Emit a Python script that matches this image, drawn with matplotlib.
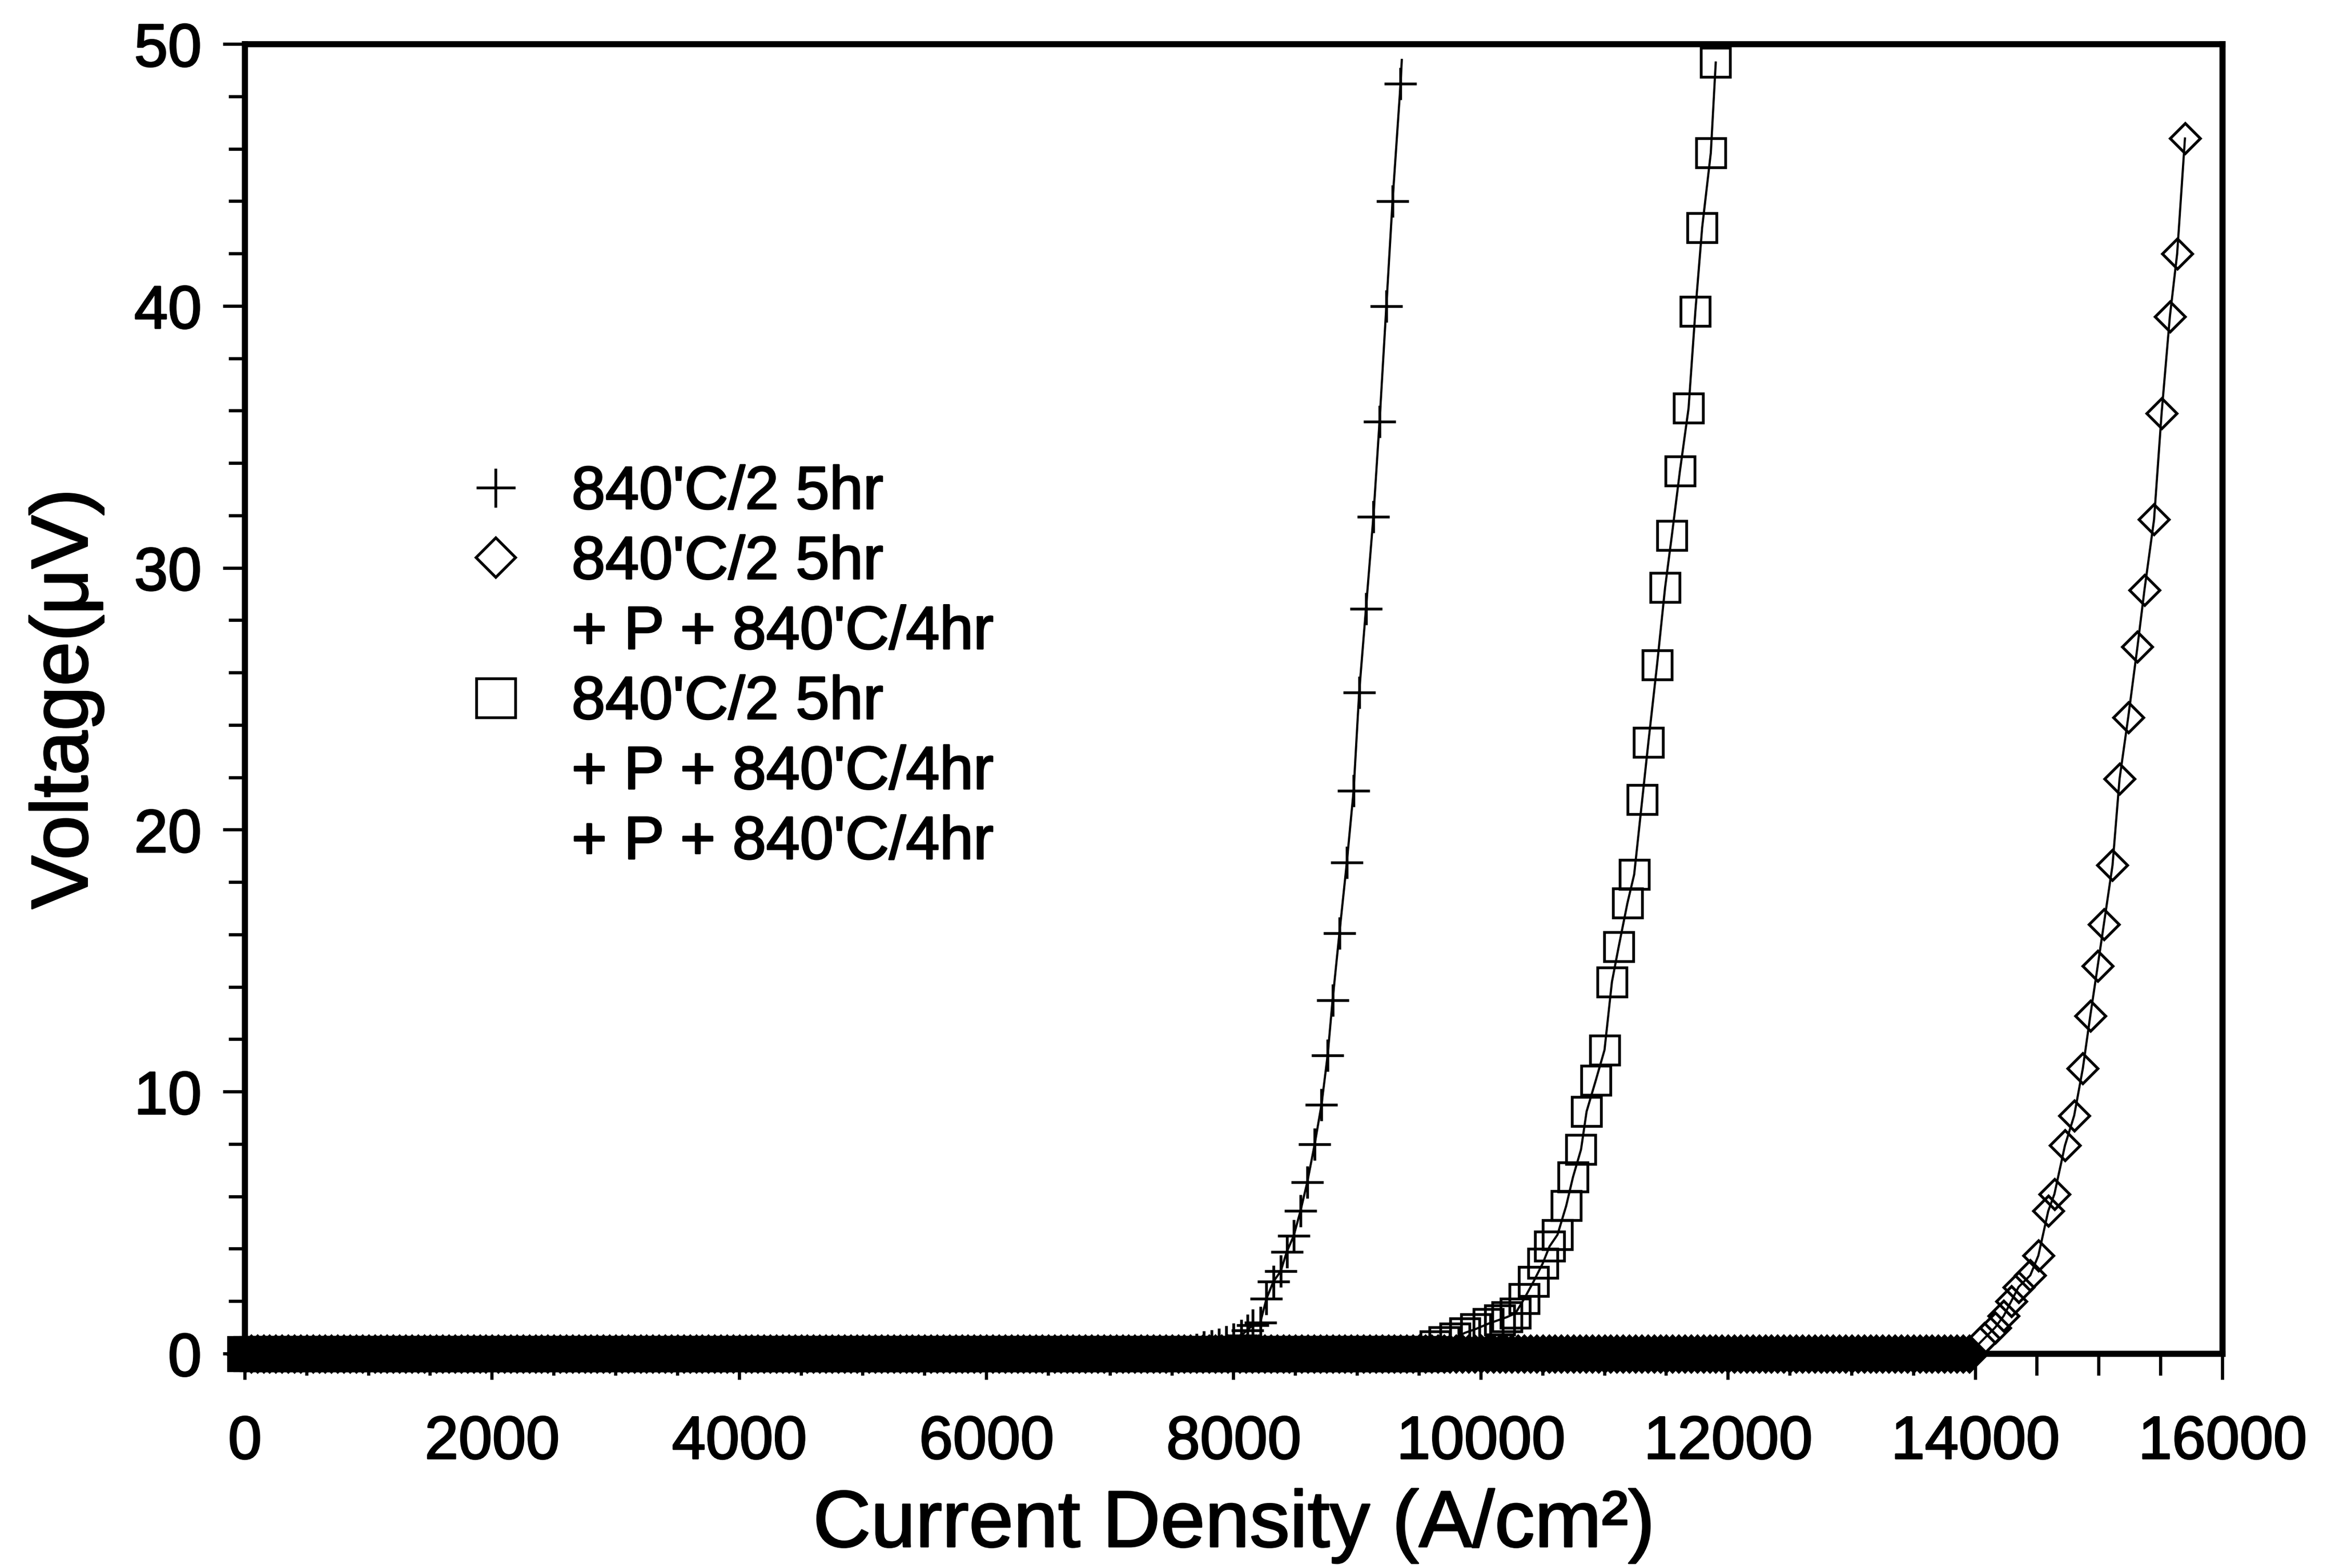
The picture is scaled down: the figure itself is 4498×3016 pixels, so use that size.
import matplotlib
matplotlib.use("Agg")
import matplotlib.pyplot as plt
import matplotlib.patheffects as pe
from matplotlib.lines import Line2D
from matplotlib.ticker import MultipleLocator

plt.rcParams["font.family"] = ["Liberation Sans", "DejaVu Sans"]

# current sweep on the flat (superconducting) part, A/cm2 -- voltage reads 0 there
sweep_current = [
    0, 50, 100, 150, 200, 250, 300, 350, 400, 450, 500, 550, 600, 650, 700, 750, 800, 850, 900, 950,
    1000, 1050, 1100, 1150, 1200, 1250, 1300, 1350, 1400, 1450, 1500, 1550, 1600, 1650, 1700, 1750, 1800, 1850, 1900, 1950,
    2000, 2050, 2100, 2150, 2200, 2250, 2300, 2350, 2400, 2450, 2500, 2550, 2600, 2650, 2700, 2750, 2800, 2850, 2900, 2950,
    3000, 3050, 3100, 3150, 3200, 3250, 3300, 3350, 3400, 3450, 3500, 3550, 3600, 3650, 3700, 3750, 3800, 3850, 3900, 3950,
    4000, 4050, 4100, 4150, 4200, 4250, 4300, 4350, 4400, 4450, 4500, 4550, 4600, 4650, 4700, 4750, 4800, 4850, 4900, 4950,
    5000, 5050, 5100, 5150, 5200, 5250, 5300, 5350, 5400, 5450, 5500, 5550, 5600, 5650, 5700, 5750, 5800, 5850, 5900, 5950,
    6000, 6050, 6100, 6150, 6200, 6250, 6300, 6350, 6400, 6450, 6500, 6550, 6600, 6650, 6700, 6750, 6800, 6850, 6900, 6950,
    7000, 7050, 7100, 7150, 7200, 7250, 7300, 7350, 7400, 7450, 7500, 7550, 7600, 7650, 7700, 7750, 7800, 7850, 7900, 7950,
    8000, 8050, 8100, 8150, 8200, 8250, 8300, 8350, 8400, 8450, 8500, 8550, 8600, 8650, 8700, 8750, 8800, 8850, 8900, 8950,
    9000, 9050, 9100, 9150, 9200, 9250, 9300, 9350, 9400, 9450, 9500, 9550, 9600, 9650, 9700, 9750, 9800, 9850, 9900, 9950,
    10000, 10050, 10100, 10150, 10200, 10250, 10300, 10350, 10400, 10450, 10500, 10550, 10600, 10650, 10700, 10750, 10800, 10850, 10900, 10950,
    11000, 11050, 11100, 11150, 11200, 11250, 11300, 11350, 11400, 11450, 11500, 11550, 11600, 11650, 11700, 11750, 11800, 11850, 11900, 11950,
    12000, 12050, 12100, 12150, 12200, 12250, 12300, 12350, 12400, 12450, 12500, 12550, 12600, 12650, 12700, 12750, 12800, 12850, 12900, 12950,
    13000, 13050, 13100, 13150, 13200, 13250, 13300, 13350, 13400, 13450, 13500, 13550, 13600, 13650, 13700, 13750, 13800, 13850, 13900, 13950,
]

# 840'C/2 5hr (crosses) - rising part
rise_current_1 = [7700, 7760, 7820, 7880, 7940, 8000, 8060, 8110, 8155, 8215,
                  8265, 8320, 8380, 8430, 8485, 8540, 8595, 8655, 8710, 8760,
                  8800, 8855, 8915, 8970, 9015, 9070, 9130, 9180, 9235, 9285,
                  9350, 9360]
rise_voltage_1 = [0.15, 0.25, 0.3, 0.35, 0.45, 0.55, 0.7, 0.9, 1.1, 1.2,
                  2.1, 2.75, 3.15, 3.9, 4.5, 5.45, 6.55, 8.0, 9.5, 11.4,
                  13.5, 16.05, 18.75, 21.5, 25.25, 28.45, 31.95, 35.6, 40.0, 44.0,
                  48.5, 49.4]

# 840'C/2 5hr + P + 840'C/4hr + P + 840'C/4hr (squares)
rise_current_2 = [9630, 9700, 9790, 9870, 9960, 10060, 10150, 10210, 10280, 10350,
                  10425, 10500, 10555, 10620, 10690, 10745, 10810, 10855, 10930, 11000,
                  11060, 11115, 11185, 11240, 11305, 11355, 11425, 11490, 11545, 11610,
                  11680, 11735, 11790, 11860, 11900]
rise_voltage_2 = [0.3, 0.45, 0.6, 0.8, 0.95, 1.15, 1.3, 1.4, 1.55, 2.1,
                  2.75, 3.45, 4.1, 4.55, 5.65, 6.75, 7.8, 9.25, 10.45, 11.6,
                  14.2, 15.55, 17.2, 18.3, 21.15, 23.35, 26.3, 29.25, 31.25, 33.7,
                  36.1, 39.8, 43.0, 45.85, 49.3]

# 840'C/2 5hr + P + 840'C/4hr (diamonds)
rise_current_3 = [14075, 14160, 14230, 14290, 14350, 14445, 14510, 14590, 14640, 14725,
                  14800, 14870, 14930, 14990, 15040, 15110, 15167, 15237, 15312, 15368,
                  15446, 15507, 15574, 15633, 15696]
rise_voltage_3 = [0.6, 1.0, 1.45, 2.0, 2.55, 3.0, 3.75, 5.45, 6.1, 7.95,
                  9.1, 10.9, 12.9, 14.8, 16.4, 18.65, 21.95, 24.3, 27.0, 29.15,
                  31.85, 35.9, 39.6, 42.0, 46.4]


def flat_part(rise_i):
    return [c for c in sweep_current if c < rise_i[0]]


fig = plt.figure(figsize=(4498 / 300, 3016 / 300), dpi=300)
ax = fig.add_axes([0.1047, 0.1366, 0.8455, 0.8352])

series = [
    (rise_current_3, rise_voltage_3, dict(marker="D", ms=10, mfc="none")),
    (rise_current_2, rise_voltage_2, dict(marker="s", ms=13.5, mfc="none")),
    (rise_current_1, rise_voltage_1, dict(marker="+", ms=15)),
]
for rise_i, rise_v, mk in series:
    base = flat_part(rise_i)
    cur = base + rise_i
    volt = [0.0] * len(base) + rise_v
    every = slice(0, len(cur) - 1) if mk["marker"] == "+" else None
    ax.plot(cur, volt, color="k", lw=1.0, mew=1.3, clip_on=False, markevery=every, **mk)
    # the flat part is a dense, overlapping pile of points in the original scan
    ax.plot(base, [0.0] * len(base), ls="none", color="k", mew=3.2, clip_on=False, **mk)

ax.set_xlim(0, 16000)
ax.set_ylim(0, 50)
ax.xaxis.set_major_locator(MultipleLocator(2000))
ax.xaxis.set_minor_locator(MultipleLocator(500))
ax.yaxis.set_major_locator(MultipleLocator(10))
ax.yaxis.set_minor_locator(MultipleLocator(2))

for s in ax.spines.values():
    s.set_linewidth(2.8)
ax.tick_params(axis="both", which="both", direction="out", top=False, right=False,
               width=1.5, labelsize=28)
ax.tick_params(axis="x", which="major", length=12, pad=16)
ax.tick_params(axis="x", which="minor", length=10)
ax.tick_params(axis="y", which="major", length=10, pad=10)
ax.tick_params(axis="y", which="minor", length=7.5)

ax.set_xlabel("Current Density (A/cm²)", fontsize=37, labelpad=8)
ax.set_ylabel("Voltage(μV)", fontsize=37, labelpad=14)

blank = Line2D([], [], color="none")
handles = [
    Line2D([], [], ls="none", color="k", marker="+", ms=18, mew=1.3),
    Line2D([], [], ls="none", color="k", marker="D", ms=13, mfc="none", mew=1.3),
    blank,
    Line2D([], [], ls="none", color="k", marker="s", ms=18, mfc="none", mew=1.3),
    blank,
    blank,
]
labels = [
    "840'C/2 5hr",
    "840'C/2 5hr",
    "+ P + 840'C/4hr",
    "840'C/2 5hr",
    "+ P + 840'C/4hr",
    "+ P + 840'C/4hr",
]
leg = ax.legend(handles, labels, loc="upper left", bbox_to_anchor=(0.1115, 0.679),
                frameon=False, fontsize=28, handlelength=1.0, handletextpad=0.75,
                borderpad=0, borderaxespad=0, labelspacing=0.22)

# scanned original has heavy strokes
heavy = [pe.withStroke(linewidth=0.7, foreground="k")]
for t in (ax.get_xticklabels() + ax.get_yticklabels() + leg.get_texts()
          + [ax.xaxis.label, ax.yaxis.label]):
    t.set_path_effects(heavy)

fig.savefig("out.png", dpi=300)
